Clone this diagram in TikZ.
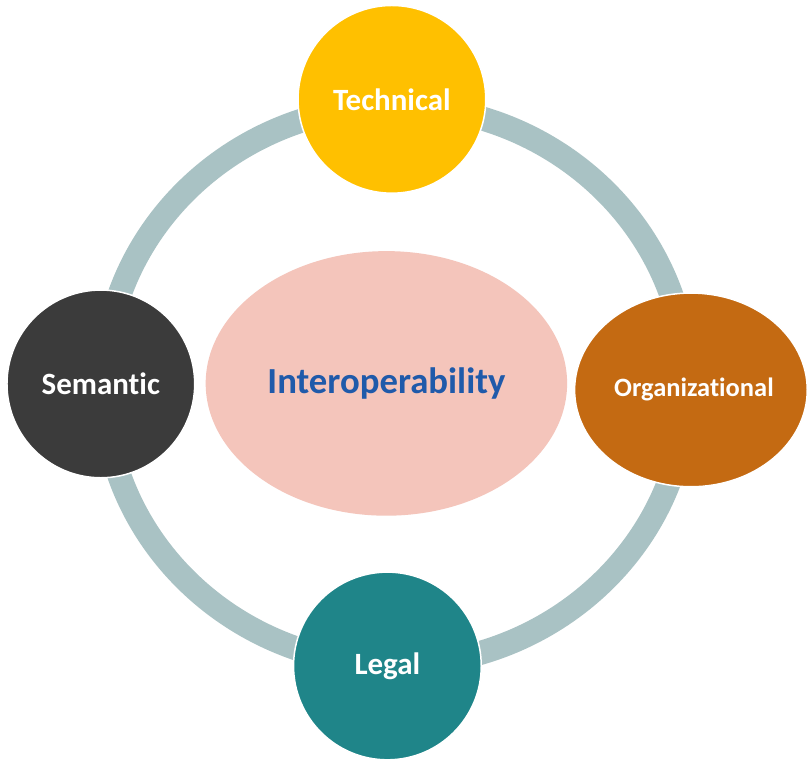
\documentclass[tikz,border=0pt]{standalone}
\usepackage{fontspec}
\setmainfont{Carlito}[Ligatures=NoCommon]
\usetikzlibrary{shapes.geometric, positioning}

\definecolor{ringgray}{HTML}{A9C2C4}
\definecolor{corepink}{HTML}{F4C5BB}
\definecolor{coreblue}{HTML}{1F5AAA}
\definecolor{techyellow}{HTML}{FFC000}
\definecolor{orgorange}{HTML}{C46A12}
\definecolor{semgray}{HTML}{3B3B3B}
\definecolor{legalteal}{HTML}{1F8589}

\begin{document}
\begin{tikzpicture}[
    x=1pt, y=-1pt,
    ring/.style={draw=ringgray, line width=24pt},
    pillar/.style={
        circle, draw=white, line width=1.5pt,
        minimum size=188pt, inner sep=0pt,
        text=white, font=\fontsize{31}{31}\selectfont\bfseries
    },
    core/.style={
        ellipse, fill=corepink, inner sep=0pt,
        minimum width=362pt, minimum height=265pt,
        text=coreblue, font=\fontsize{36.8}{36.8}\selectfont\bfseries
    }
]

% Page
\fill[white] (0,0) rectangle (808,760);

% Ring behind the four pillars
\coordinate (hub) at (396,386);
\draw[ring] (hub) ellipse [x radius=292pt, y radius=280pt];

% Centre
\node[core] (interop) at (387,384) {Interoperability};

% Pillars
\node[pillar, fill=techyellow] (tech) at (392.5,99.5) {Technical};
\node[pillar, fill=semgray] (sem) at (101,384.5) {Semantic};
\node[pillar, fill=legalteal] (legal) at (388,667) {Legal};
\node[pillar, ellipse, fill=orgorange, minimum width=233pt, minimum height=194pt,
      font=\fontsize{26.5}{26.5}\selectfont\bfseries] (org) at (692,390.5) {};
\node[text=white, font=\fontsize{26.5}{26.5}\selectfont\bfseries] (orglabel)
      at ([xshift=3pt]org.center) {Organizational};

\end{tikzpicture}
\end{document}
